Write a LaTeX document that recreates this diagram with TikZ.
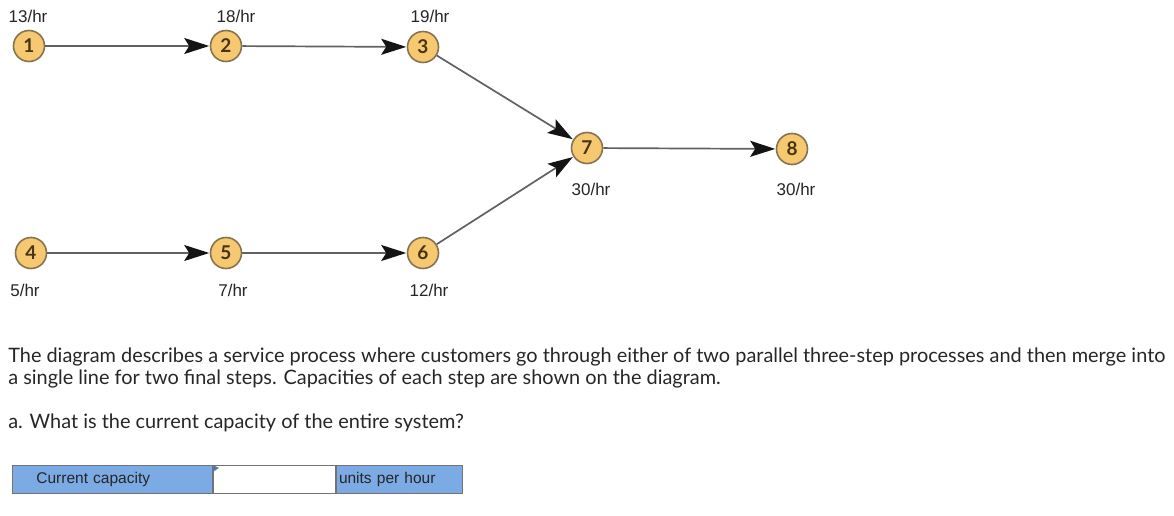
\documentclass[tikz,border=0pt]{standalone}
\usepackage{fontspec}
\setmainfont{Liberation Sans}
\newfontfamily\quizfont{Lato}
\usetikzlibrary{arrows.meta,automata}
\usetikzlibrary{positioning}
\definecolor{stepfill}{RGB}{246,200,112}
\definecolor{stepline}{RGB}{135,115,82}
\definecolor{steptext}{RGB}{70,52,25}
\definecolor{formblue}{RGB}{124,170,228}
\begin{document}
\begin{tikzpicture}[x=1pt,y=-1pt,-,auto,semithick]
 				 \tikzstyle{every state}=[fill=stepfill, draw=stepline, line width=1.6pt, text=steptext, minimum size=31pt, inner sep=0pt, font=\quizfont\bfseries\fontsize{19}{19}\selectfont]
 				 \tikzstyle{flow}=[draw=black!62, line width=1.7pt, -{Stealth[length=25pt,width=16pt,inset=5pt,color=black!92]}, shorten >=0.5pt]
 				 \tikzstyle{rate}=[font=\fontsize{17}{17}\selectfont, text=black!85, inner sep=0pt]
 				 \tikzstyle{cell}=[draw=black!55, line width=0.8pt, minimum height=28pt, inner sep=0pt, font=\fontsize{15.5}{15.5}\selectfont, text=black!85]
						\useasboundingbox (0,0) rectangle (1174,516);
						\node[state] (1) at (29,46) {1};
						\node[state] (2) at (226,46) {2};
						\node[state] (3) at (423,47) {3};
						\node[state] (4) at (31,253) {4};
						\node[state] (5) at (226,253) {5};
						\node[state] (6) at (423,253) {6};
						\node[state] (7) at (587,148) {7};
						\node[state] (8) at (792,149) {8};

						\path[flow]
							(1) edge (2)
							(2) edge (3)
							(3) edge (7)
							(4) edge (5)
							(5) edge (6)
							(6) edge (7)
							(7) edge (8);

						% capacities
						\node[rate] (r1) at (28,16) {13/hr};
						\node[rate] (r2) at (236,16) {18/hr};
						\node[rate] (r3) at (430,16) {19/hr};
						\node[rate] (r7) at (591,189) {30/hr};
						\node[rate] (r8) at (796,189) {30/hr};
						\node[rate] (r4) at (25,290) {5/hr};
						\node[rate] (r5) at (233,290) {7/hr};
						\node[rate] (r6) at (429,290) {12/hr};

						% question text
						\node[anchor=north west, inner sep=0pt, align=left, text=black!85, font=\quizfont\fontsize{19.9}{22}\selectfont] (q) at (8,348)
							{The diagram describes a service process where customers go through either of two parallel three-step processes and then merge into\\
							 a single line for two final steps. Capacities of each step are shown on the diagram.};
						\node[anchor=north west, inner sep=0pt, text=black!85, font=\quizfont\fontsize{19.9}{22}\selectfont] (qa) at (8,414)
							{a. What is the current capacity of the entire system?};

						% answer field
						\node[cell, fill=formblue, minimum width=200pt, anchor=north west, text width=190pt, align=left] (c1) at (12,465) {\hspace*{19pt}Current capacity};
						\node[cell, fill=white, minimum width=122pt, anchor=north west] (c2) at (c1.north east) {};
						\node[cell, fill=formblue, minimum width=126pt, anchor=north west, text width=120pt, align=left] (c3) at (c2.north east) {units per hour};
						\fill[formblue!70!black] (c2.north west) -- ++(6,3) -- ++(-6,4) -- cycle;
 				\end{tikzpicture}
\end{document}
